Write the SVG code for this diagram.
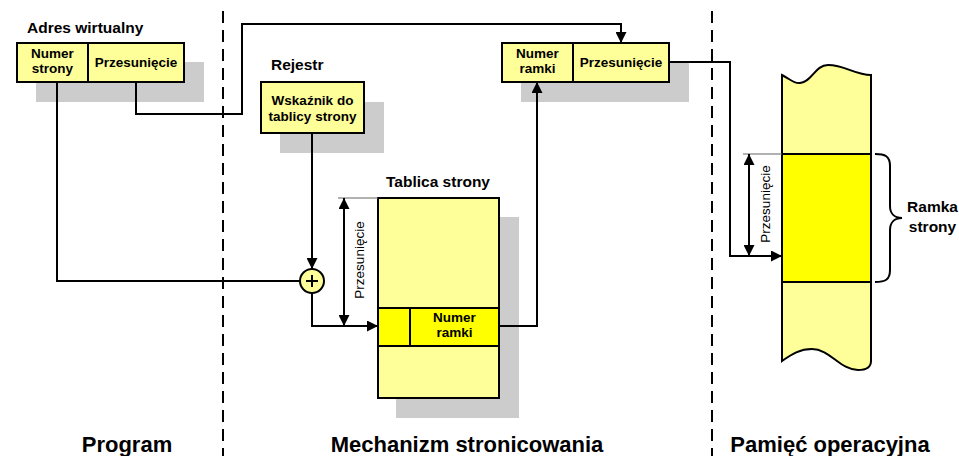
<svg xmlns="http://www.w3.org/2000/svg" width="959" height="456" viewBox="0 0 959 456">
<defs>
<style>
.bx{fill:#FFFF99;stroke:#000;stroke-width:2}
.hi{fill:#FFFF00;stroke:#000;stroke-width:2}
.sh{fill:#CCCCCC}
.ln{fill:none;stroke:#000;stroke-width:2}
.ext{fill:none;stroke:#666;stroke-width:1.2}
.dash{fill:none;stroke:#000;stroke-width:2;stroke-dasharray:12 7}
text{font-family:"Liberation Sans",Arial,sans-serif;fill:#000}
.b{font-weight:bold}
.s13{font-size:13.5px}
.s15{font-size:15.5px}
.s22{font-size:22px}
.m{text-anchor:middle}
</style>
<marker id="ah" viewBox="0 0 10 10" refX="10" refY="5" markerWidth="11" markerHeight="11" markerUnits="userSpaceOnUse" orient="auto-start-reverse">
<path d="M0,0 L10,5 L0,10 z" fill="#000"/>
</marker>
</defs>
<rect width="959" height="456" fill="#fff"/>

<g id="dividers">
<line class="dash" x1="223" y1="11" x2="223" y2="456"/>
<line class="dash" x1="712" y1="11" x2="712" y2="456"/>
</g>

<g id="virtual-address">
<text class="b s15" x="27" y="33">Adres wirtualny</text>
<rect class="sh" x="36" y="62" width="168" height="40"/>
<rect class="bx" x="17" y="43" width="167" height="39"/>
<line class="ln" x1="88" y1="43" x2="88" y2="82"/>
<text class="b s13 m" x="52.5" y="58">Numer</text>
<text class="b s13 m" x="52.5" y="73">strony</text>
<text class="b s13 m" x="136" y="67">Przesunięcie</text>
</g>

<g id="register">
<text class="b s15" x="271" y="70">Rejestr</text>
<rect class="sh" x="280" y="102" width="104" height="51"/>
<rect class="bx" x="261" y="82" width="103" height="51"/>
<text class="b s13 m" x="312.5" y="105">Wskaźnik do</text>
<text class="b s13 m" x="312.5" y="121">tablicy strony</text>
</g>

<g id="physical-address">
<rect class="sh" x="521" y="62" width="168" height="40"/>
<rect class="bx" x="502" y="43" width="167" height="39"/>
<line class="ln" x1="573" y1="43" x2="573" y2="82"/>
<text class="b s13 m" x="537.5" y="58">Numer</text>
<text class="b s13 m" x="537.5" y="73">ramki</text>
<text class="b s13 m" x="621" y="67">Przesunięcie</text>
</g>

<g id="page-table">
<text class="b s15 m" x="438" y="187">Tablica strony</text>
<rect class="sh" x="396" y="217" width="123" height="201"/>
<rect class="bx" x="378" y="198" width="121" height="200"/>
<rect class="hi" x="378" y="308" width="121" height="38"/>
<line class="ln" x1="410" y1="308" x2="410" y2="346"/>
<text class="b s13 m" x="454.5" y="322">Numer</text>
<text class="b s13 m" x="454.5" y="337">ramki</text>
</g>

<g id="adder">
<circle cx="312" cy="281" r="12" class="bx"/>
<line class="ln" x1="306" y1="281" x2="318" y2="281"/>
<line class="ln" x1="312" y1="275" x2="312" y2="287"/>
</g>

<g id="memory">
<path class="bx" d="M782,75 C790,79 794,84 800,83 C812,82 815,65 828,65 C845,65 855,75 871,75 L871,361 C871,366 868,370 858,370 C840,370 830,349 812,349 C800,349 792,354 782,361 Z"/>
<rect class="hi" x="782" y="154" width="89" height="128"/>
<path class="ln" d="M875,154 C885,154 890,156 890,166 L890,206 C890,213 894,218 902,218 C894,218 890,223 890,230 L890,270 C890,280 885,282 875,282"/>
<text class="b s15 m" x="932.5" y="212">Ramka</text>
<text class="b s15 m" x="932.5" y="232">strony</text>
</g>

<g id="connectors">
<path class="ln" d="M57,82 V281 H300"/>
<path class="ln" d="M136,82 V114 H242 V24 H621 V43" marker-end="url(#ah)"/>
<path class="ln" d="M312,133 V269" marker-end="url(#ah)"/>
<path class="ln" d="M312,293 V326 H378" marker-end="url(#ah)"/>
<path class="ln" d="M499,326 H537 V82" marker-end="url(#ah)"/>
<path class="ln" d="M669,62 H730 V256 H782" marker-end="url(#ah)"/>
</g>

<g id="offset-dimensions">
<line class="ext" x1="338" y1="198" x2="378" y2="198"/>
<line class="ln" x1="344" y1="198" x2="344" y2="326" marker-start="url(#ah)" marker-end="url(#ah)"/>
<text class="s13 m" transform="translate(364,260) rotate(-90)">Przesunięcie</text>
<line class="ext" x1="743" y1="154" x2="782" y2="154"/>
<line class="ln" x1="749" y1="154" x2="749" y2="256" marker-start="url(#ah)" marker-end="url(#ah)"/>
<text class="s13 m" transform="translate(770,204) rotate(-90)">Przesunięcie</text>
</g>

<g id="section-labels">
<text class="b s22 m" x="127" y="452">Program</text>
<text class="b s22 m" x="467" y="452">Mechanizm stronicowania</text>
<text class="b s22 m" x="830" y="452">Pamięć operacyjna</text>
</g>
</svg>
